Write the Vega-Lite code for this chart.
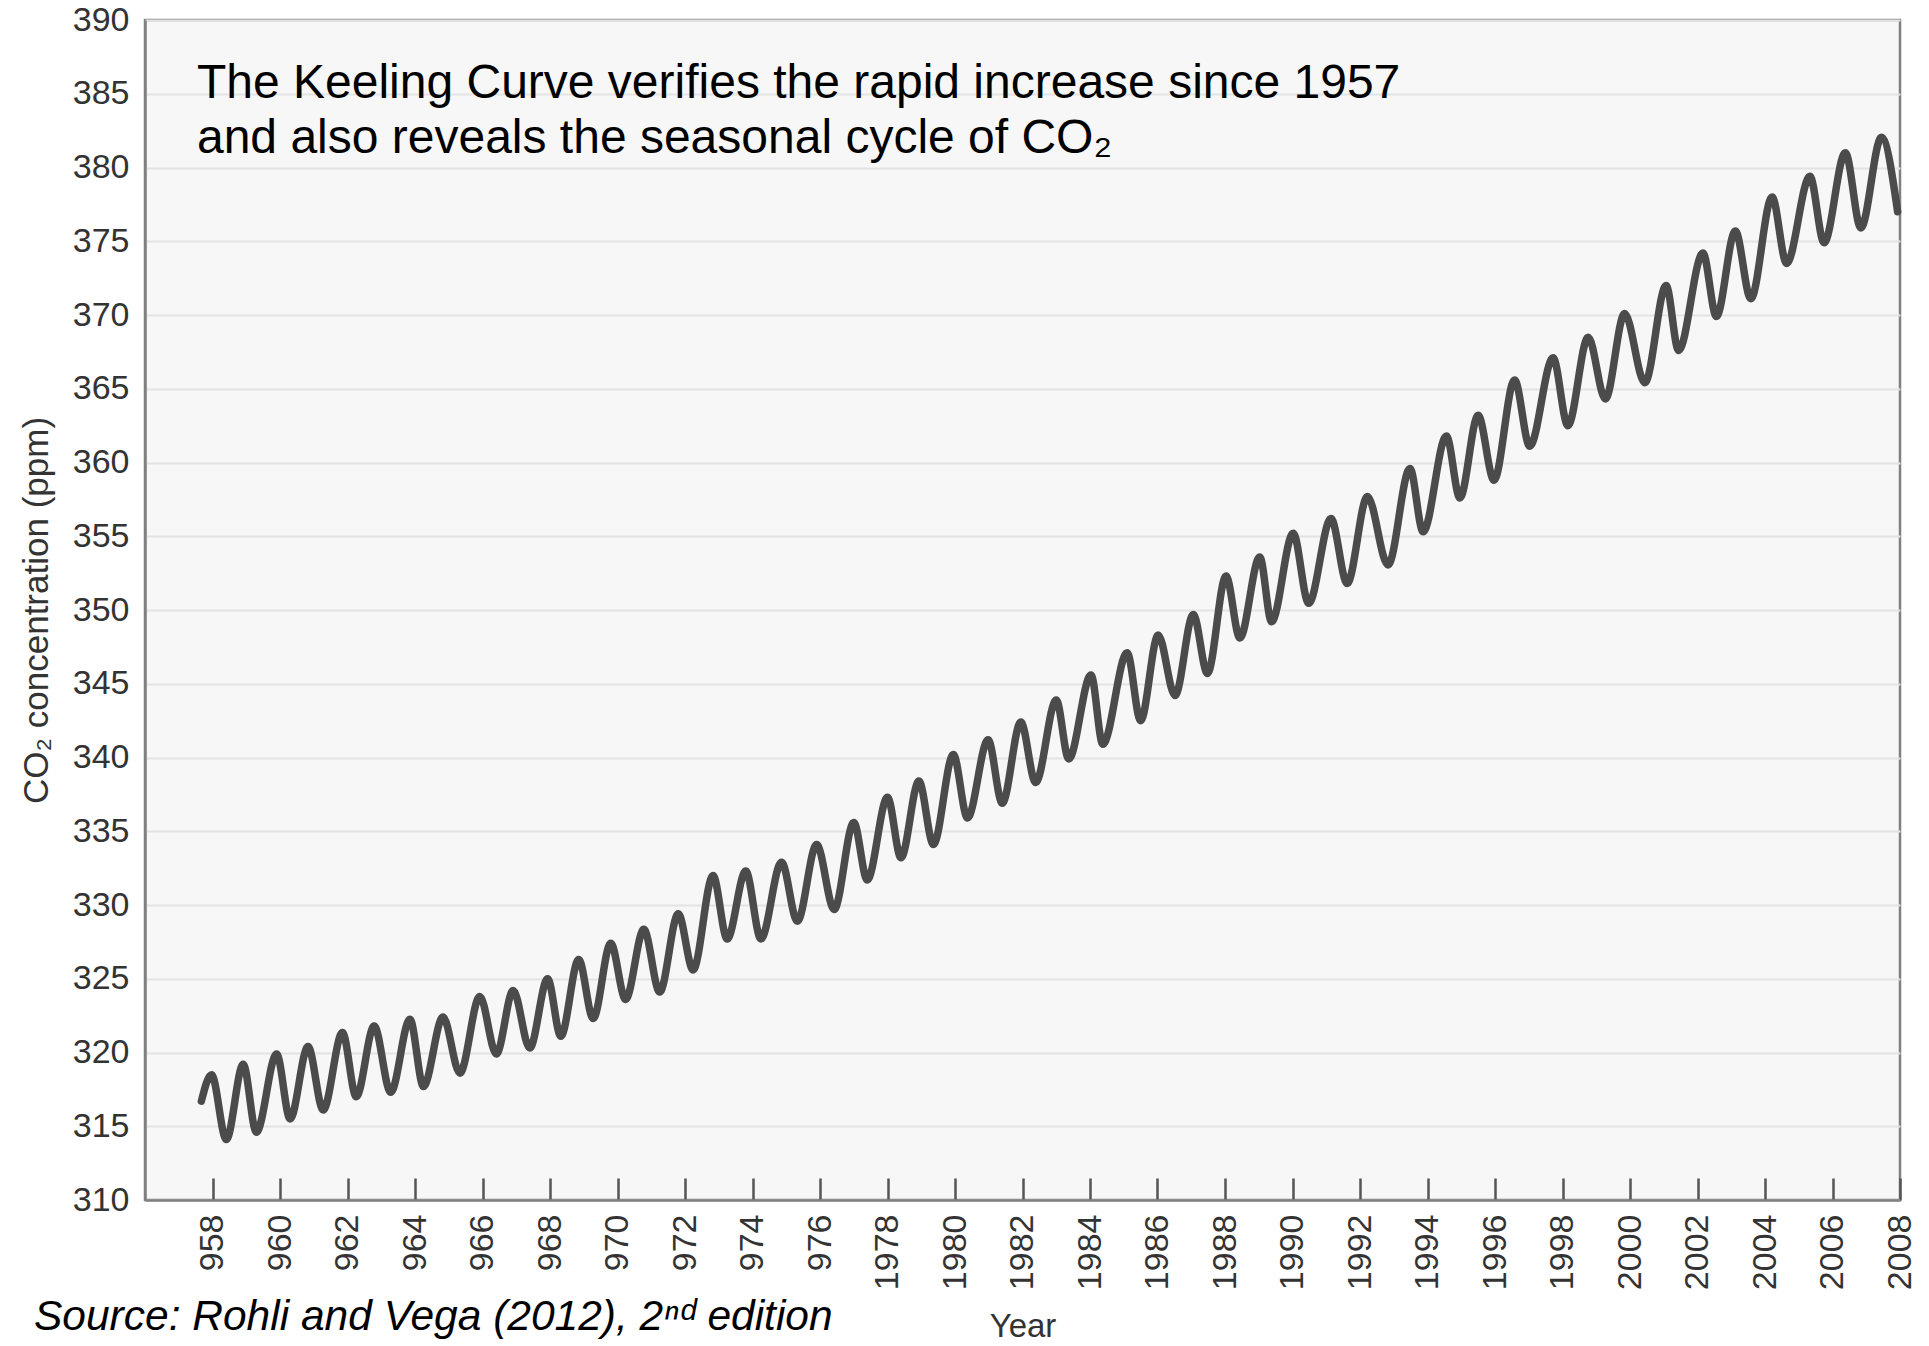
{
  "$schema": "https://vega.github.io/schema/vega-lite/v6.json",
  "width": 1755,
  "height": 1180,
  "autosize": {"type": "none"},
  "padding": {"left": 145, "top": 20, "right": 29, "bottom": 146},
  "background": "white",
  "config": {
    "view": {"fill": "#f7f7f7", "stroke": "#808080", "strokeWidth": 2.5},
    "font": "Liberation Sans"
  },
  "title": {
    "text": "Source: Rohli and Vega (2012), 2ⁿᵈ edition",
    "orient": "bottom",
    "anchor": "start",
    "frame": "group",
    "dx": -111,
    "offset": -48,
    "font": "Liberation Sans",
    "fontSize": 42.5,
    "fontStyle": "italic",
    "fontWeight": "normal",
    "color": "#000000"
  },
  "data": {
    "values": [
      {"year": 1957.67, "co2": 316.7},
      {"year": 1957.97, "co2": 318.5},
      {"year": 1958.41, "co2": 314.1},
      {"year": 1958.91, "co2": 319.2},
      {"year": 1959.30, "co2": 314.6},
      {"year": 1959.90, "co2": 319.9},
      {"year": 1960.30, "co2": 315.5},
      {"year": 1960.83, "co2": 320.4},
      {"year": 1961.28, "co2": 316.1},
      {"year": 1961.85, "co2": 321.35},
      {"year": 1962.26, "co2": 317.0},
      {"year": 1962.79, "co2": 321.8},
      {"year": 1963.28, "co2": 317.3},
      {"year": 1963.85, "co2": 322.25},
      {"year": 1964.25, "co2": 317.7},
      {"year": 1964.83, "co2": 322.4},
      {"year": 1965.33, "co2": 318.6},
      {"year": 1965.92, "co2": 323.8},
      {"year": 1966.41, "co2": 319.9},
      {"year": 1966.91, "co2": 324.2},
      {"year": 1967.40, "co2": 320.3},
      {"year": 1967.93, "co2": 325.0},
      {"year": 1968.32, "co2": 321.1},
      {"year": 1968.85, "co2": 326.3},
      {"year": 1969.28, "co2": 322.3},
      {"year": 1969.80, "co2": 327.4},
      {"year": 1970.24, "co2": 323.6},
      {"year": 1970.78, "co2": 328.35},
      {"year": 1971.25, "co2": 324.1},
      {"year": 1971.80, "co2": 329.4},
      {"year": 1972.24, "co2": 325.6},
      {"year": 1972.83, "co2": 332.0},
      {"year": 1973.25, "co2": 327.7},
      {"year": 1973.80, "co2": 332.3},
      {"year": 1974.25, "co2": 327.7},
      {"year": 1974.86, "co2": 332.9},
      {"year": 1975.33, "co2": 328.9},
      {"year": 1975.90, "co2": 334.1},
      {"year": 1976.42, "co2": 329.7},
      {"year": 1977.00, "co2": 335.6},
      {"year": 1977.40, "co2": 331.7},
      {"year": 1978.00, "co2": 337.3},
      {"year": 1978.40, "co2": 333.2},
      {"year": 1978.93, "co2": 338.4},
      {"year": 1979.36, "co2": 334.1},
      {"year": 1979.95, "co2": 340.2},
      {"year": 1980.37, "co2": 335.9},
      {"year": 1980.98, "co2": 341.2},
      {"year": 1981.40, "co2": 336.9},
      {"year": 1981.95, "co2": 342.4},
      {"year": 1982.39, "co2": 338.3},
      {"year": 1983.00, "co2": 343.9},
      {"year": 1983.37, "co2": 339.9},
      {"year": 1984.03, "co2": 345.6},
      {"year": 1984.38, "co2": 340.9},
      {"year": 1985.10, "co2": 347.1},
      {"year": 1985.50, "co2": 342.5},
      {"year": 1986.02, "co2": 348.3},
      {"year": 1986.52, "co2": 344.2},
      {"year": 1987.06, "co2": 349.7},
      {"year": 1987.48, "co2": 345.7},
      {"year": 1988.03, "co2": 352.3},
      {"year": 1988.44, "co2": 348.1},
      {"year": 1989.03, "co2": 353.6},
      {"year": 1989.38, "co2": 349.2},
      {"year": 1990.02, "co2": 355.2},
      {"year": 1990.48, "co2": 350.45},
      {"year": 1991.14, "co2": 356.2},
      {"year": 1991.62, "co2": 351.8},
      {"year": 1992.22, "co2": 357.7},
      {"year": 1992.83, "co2": 353.05},
      {"year": 1993.48, "co2": 359.6},
      {"year": 1993.87, "co2": 355.3},
      {"year": 1994.56, "co2": 361.8},
      {"year": 1994.96, "co2": 357.6},
      {"year": 1995.50, "co2": 363.2},
      {"year": 1995.97, "co2": 358.8},
      {"year": 1996.58, "co2": 365.6},
      {"year": 1997.03, "co2": 361.1},
      {"year": 1997.72, "co2": 367.1},
      {"year": 1998.16, "co2": 362.5},
      {"year": 1998.76, "co2": 368.5},
      {"year": 1999.27, "co2": 364.3},
      {"year": 1999.84, "co2": 370.1},
      {"year": 2000.44, "co2": 365.4},
      {"year": 2001.07, "co2": 372.0},
      {"year": 2001.44, "co2": 367.6},
      {"year": 2002.16, "co2": 374.2},
      {"year": 2002.56, "co2": 369.9},
      {"year": 2003.12, "co2": 375.7},
      {"year": 2003.58, "co2": 371.1},
      {"year": 2004.21, "co2": 378.0},
      {"year": 2004.64, "co2": 373.5},
      {"year": 2005.33, "co2": 379.4},
      {"year": 2005.75, "co2": 374.9},
      {"year": 2006.38, "co2": 381.0},
      {"year": 2006.84, "co2": 375.9},
      {"year": 2007.45, "co2": 382.05},
      {"year": 2007.93, "co2": 377.0}
    ]
  },
  "layer": [
    {
      "mark": {
        "type": "line",
        "interpolate": "monotone",
        "color": "#4b4b4b",
        "strokeWidth": 7.5,
        "strokeCap": "round",
        "strokeJoin": "round"
      },
      "encoding": {
        "x": {
          "field": "year",
          "type": "quantitative",
          "scale": {"domain": [1956, 2008], "nice": false, "zero": false},
          "axis": {
            "title": "Year",
            "values": [1958, 1960, 1962, 1964, 1966, 1968, 1970, 1972, 1974, 1976, 1978, 1980, 1982, 1984, 1986, 1988, 1990, 1992, 1994, 1996, 1998, 2000, 2002, 2004, 2006, 2008],
            "format": "d",
            "labelExpr": "datum.value < 1977 ? substring(datum.label, 1) : datum.label",
            "labelAngle": -90,
            "labelFont": "Liberation Sans",
            "labelFontSize": 34,
            "labelColor": "#333333",
            "labelFlush": false,
            "labelOverlap": false,
            "labelBound": false,
            "ticks": true,
            "tickSize": -22,
            "tickColor": "#555555",
            "tickWidth": 2.5,
            "labelPadding": 36,
            "grid": false,
            "domainColor": "#808080",
            "domainWidth": 2.5,
            "titleFont": "Liberation Sans",
            "titleFontSize": 33,
            "titleFontWeight": "normal",
            "titleColor": "#333333",
            "titlePadding": 21
          }
        },
        "y": {
          "field": "co2",
          "type": "quantitative",
          "scale": {"domain": [310, 390], "nice": false, "zero": false},
          "axis": {
            "title": "CO₂ concentration (ppm)",
            "values": [310, 315, 320, 325, 330, 335, 340, 345, 350, 355, 360, 365, 370, 375, 380, 385, 390],
            "ticks": false,
            "labelPadding": 16,
            "labelFont": "Liberation Sans",
            "labelFontSize": 34,
            "labelColor": "#333333",
            "labelFlush": false,
            "labelOverlap": false,
            "labelBound": false,
            "grid": true,
            "gridColor": "#e3e3e3",
            "gridWidth": 2,
            "domainColor": "#808080",
            "domainWidth": 2.5,
            "titleFont": "Liberation Sans",
            "titleFontSize": 35,
            "titleFontWeight": "normal",
            "titleColor": "#333333",
            "titlePadding": 18
          }
        }
      }
    },
    {
      "data": {"values": [{}]},
      "mark": {
        "type": "text",
        "text": ["The Keeling Curve verifies the rapid increase since 1957", "and also reveals the seasonal cycle of CO₂"],
        "align": "left",
        "baseline": "alphabetic",
        "font": "Liberation Sans",
        "fontSize": 48,
        "lineHeight": 55,
        "color": "#000000"
      },
      "encoding": {
        "x": {"datum": 1957.54},
        "y": {"datum": 384.7}
      }
    }
  ]
}
